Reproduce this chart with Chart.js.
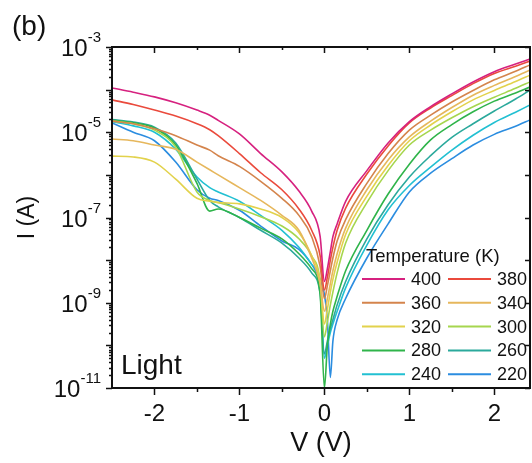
<!DOCTYPE html>
<html>
<head>
<meta charset="utf-8">
<script src="https://cdn.jsdelivr.net/npm/chart.js@4"></script>
<style>
  html, body { margin: 0; padding: 0; background: #fff; }
  #iv { display: block; }
</style>
</head>
<body>
<canvas id="iv" width="532" height="463"></canvas>
<script>
// voltage grid (V) shared by all curves
const voltage = [-2.5, -2.25, -2.0, -1.75, -1.5, -1.35, -1.25, -1.0, -0.75, -0.5, -0.3, -0.15, -0.05, 0,
                 0.035, 0.07, 0.1, 0.15, 0.25, 0.5, 0.75, 1.0, 1.25, 1.5, 1.75, 2.0, 2.25, 2.42];

// current, as decade exponent (log10 of I in A)
const log400 = [-3.96, -4.06, -4.17, -4.31, -4.48, -4.6, -4.72, -5.04, -5.5, -5.93, -6.38, -6.85, -7.45, -8.5,
                -8.2, -7.8, -7.45, -7.15, -6.62, -5.9, -5.25, -4.75, -4.4, -4.1, -3.82, -3.58, -3.4, -3.28];
const log380 = [-4.24, -4.35, -4.48, -4.62, -4.8, -4.94, -5.08, -5.5, -5.95, -6.35, -6.8, -7.3, -7.9, -8.7,
                -8.4, -8.0, -7.7, -7.3, -6.78, -5.98, -5.32, -4.78, -4.43, -4.14, -3.86, -3.62, -3.45, -3.33];
const log360 = [-4.74, -4.8, -4.92, -5.08, -5.3, -5.42, -5.55, -5.8, -6.15, -6.55, -6.95, -7.45, -8.15, -8.9,
                -8.6, -8.25, -7.95, -7.55, -7.05, -6.2, -5.5, -4.95, -4.6, -4.29, -4.02, -3.77, -3.57, -3.42];
const log340 = [-5.16, -5.2, -5.3, -5.4, -5.7, -5.88, -6.0, -6.3, -6.6, -6.95, -7.3, -7.95, -8.55, -9.2,
                -8.9, -8.55, -8.25, -7.85, -7.25, -6.35, -5.65, -5.11, -4.74, -4.42, -4.13, -3.9, -3.69, -3.54];
const log320 = [-5.56, -5.58, -5.7, -6.1, -6.55, -6.62, -6.65, -6.68, -6.8, -7.0, -7.35, -7.9, -8.5, -9.5,
                -9.15, -8.75, -8.45, -8.05, -7.4, -6.5, -5.78, -5.2, -4.83, -4.52, -4.24, -4.02, -3.81, -3.66];
const log300 = [-4.74, -4.8, -4.95, -5.35, -6.4, -6.6, -6.65, -6.8, -6.98, -7.2, -7.5, -7.9, -8.5, -9.8,
                -9.45, -9.05, -8.75, -8.3, -7.6, -6.65, -5.9, -5.3, -4.95, -4.66, -4.4, -4.18, -3.97, -3.82];
const log280 = [-4.72, -4.78, -4.9, -5.3, -6.2, -6.85, -6.8, -7.0, -7.25, -7.5, -7.85, -8.2, -8.8, -11.0,
                -10.0, -9.5, -9.2, -8.85, -8.25, -7.3, -6.45, -5.75, -5.18, -4.82, -4.52, -4.27, -4.08, -3.94];
const log260 = [-4.7, -4.76, -4.88, -5.25, -6.1, -6.6, -6.75, -7.0, -7.3, -7.6, -7.95, -8.3, -8.8, -10.2,
                -9.9, -9.6, -9.4, -9.05, -8.5, -7.5, -6.7, -6.05, -5.55, -5.12, -4.8, -4.5, -4.22, -4.01];
const log240 = [-4.75, -4.85, -5.0, -5.4, -6.05, -6.3, -6.4, -6.62, -6.95, -7.3, -7.7, -8.1, -8.6, -10.3,
                -10.0, -9.7, -9.5, -9.2, -8.65, -7.65, -6.82, -6.25, -5.82, -5.42, -5.07, -4.77, -4.53, -4.36];
const log220 = [-4.78, -5.0, -5.2, -5.7, -6.35, -6.55, -6.6, -6.83, -7.2, -7.55, -7.75, -8.1, -8.45, -8.8,
                -9.4, -10.75, -9.9, -9.4, -8.9, -7.95, -7.15, -6.4, -5.96, -5.62, -5.3, -5.05, -4.86, -4.71];

const temps = ['400', '380', '360', '340', '320', '300', '280', '260', '240', '220'];
const curves = [log400, log380, log360, log340, log320, log300, log280, log260, log240, log220];
const colors = ['#d6217f', '#ea4a3c', '#d4844c', '#e6b75c', '#e2d24c', '#a6d64e', '#2fb44a', '#2ba99c', '#22c0d2', '#2b8de0'];

const xLabelTicks = [-2, -1, 0, 1, 2];
const yLabelExps = [-3, -5, -7, -9, -11];

const FONT = '"Liberation Sans", Arial, sans-serif';

const datasets = curves.map((c, i) => ({
    label: temps[i],
    data: voltage.map((v, j) => ({ x: v, y: Math.pow(10, c[j]) })),
    borderColor: colors[i],
    borderWidth: 1.6,
    pointRadius: 0,
    fill: false,
    cubicInterpolationMode: 'monotone'
}));

const frame = {
    id: 'frame',
    afterDraw(chart) {
        const { ctx, chartArea: a, scales: { x, y } } = chart;
        ctx.save();
        ctx.strokeStyle = '#111';
        ctx.fillStyle = '#111';
        ctx.lineWidth = 2;
        ctx.strokeRect(a.left, a.top, a.right - a.left, a.bottom - a.top);

        // x ticks: bottom outward, top inward
        ctx.lineWidth = 1.5;
        ctx.beginPath();
        for (let v = -2; v <= 2; v += 0.5) {
            const px = Math.round(x.getPixelForValue(v)) + 0.5;
            const major = Number.isInteger(v);
            ctx.moveTo(px, a.bottom); ctx.lineTo(px, a.bottom + (major ? 7 : 4));
            ctx.moveTo(px, a.top); ctx.lineTo(px, a.top + (major ? 6 : 3));
        }
        // y ticks: left outward, right inward
        for (let e = -11; e <= -3; e++) {
            const py = Math.round(y.getPixelForValue(Math.pow(10, e))) + 0.5;
            ctx.moveTo(a.left, py); ctx.lineTo(a.left - 6, py);
            ctx.moveTo(a.right, py); ctx.lineTo(a.right - 5, py);
            if (e === -3) continue;
            for (let m = 2; m <= 9; m++) {
                const pm = Math.round(y.getPixelForValue(m * Math.pow(10, e))) + 0.5;
                ctx.moveTo(a.left, pm); ctx.lineTo(a.left - 3, pm);
            }
        }
        ctx.stroke();

        // y tick labels 10^n
        ctx.textAlign = 'left';
        ctx.textBaseline = 'alphabetic';
        yLabelExps.forEach(e => {
            const py = y.getPixelForValue(Math.pow(10, e));
            const exp = String(e);
            ctx.font = '15px ' + FONT;
            const ew = ctx.measureText(exp).width;
            ctx.font = '24px ' + FONT;
            const bw = ctx.measureText('10').width;
            ctx.fillText('10', 101 - ew - bw, py + 9);
            ctx.font = '15px ' + FONT;
            ctx.fillText(exp, 101 - ew, py - 5);
        });

        // panel label and condition
        ctx.font = '28px ' + FONT;
        ctx.fillText('(b)', 12, 35);
        ctx.font = '28px ' + FONT;
        ctx.fillText('Light', 121, 374);

        // legend
        ctx.font = '18.5px ' + FONT;
        ctx.textBaseline = 'middle';
        ctx.fillText('Temperature (K)', 366, 257);
        ctx.font = '18px ' + FONT;
        temps.forEach((t, i) => {
            const col = i % 2, row = Math.floor(i / 2);
            const lx = 362 + col * 86, ly = 279 + row * 23.8;
            ctx.strokeStyle = colors[i];
            ctx.lineWidth = 2;
            ctx.beginPath();
            ctx.moveTo(lx, ly); ctx.lineTo(lx + 43, ly);
            ctx.stroke();
            ctx.fillStyle = '#111';
            ctx.fillText(t, lx + 49, ly + 1);
        });
        ctx.restore();
    }
};

new Chart(document.getElementById('iv'), {
    type: 'line',
    data: { datasets },
    options: {
        responsive: false,
        animation: false,
        devicePixelRatio: 1,
        layout: { padding: { top: 47, right: 2, left: 0, bottom: 0 } },
        plugins: { legend: { display: false }, tooltip: { enabled: false } },
        scales: {
            x: {
                type: 'linear',
                min: -2.5,
                max: 2.42,
                grid: { display: false, drawTicks: false },
                border: { display: false },
                ticks: {
                    stepSize: 0.5,
                    includeBounds: false,
                    autoSkip: false,
                    maxRotation: 0,
                    padding: 12,
                    color: '#111',
                    font: { family: FONT, size: 24 },
                    callback: v => xLabelTicks.includes(v) ? String(v) : ''
                },
                title: {
                    display: true,
                    text: 'V (V)',
                    color: '#111',
                    font: { family: FONT, size: 27 },
                    padding: { top: 0, bottom: 3 }
                },
                afterFit: s => { s.height = 75; }
            },
            y: {
                type: 'logarithmic',
                min: 1e-11,
                max: 1e-3,
                grid: { display: false, drawTicks: false },
                border: { display: false },
                ticks: { display: false },
                title: {
                    display: true,
                    text: 'I (A)',
                    color: '#111',
                    font: { family: FONT, size: 23 },
                    padding: { top: 14, bottom: 0 }
                },
                afterFit: s => { s.width = 112; }
            }
        }
    },
    plugins: [frame]
});
</script>
</body>
</html>
